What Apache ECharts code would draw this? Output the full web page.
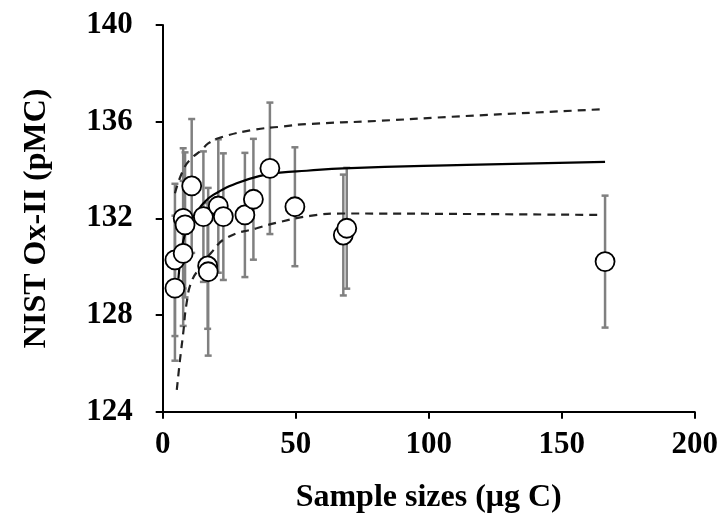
<!DOCTYPE html>
<html>
<head>
<meta charset="utf-8">
<script src="https://cdn.jsdelivr.net/npm/echarts@6/dist/echarts.min.js"></script>
<style>html,body{margin:0;padding:0;background:#fff;}#c{width:724px;height:527px;}</style>
</head>
<body>
<div id="c"></div>
<script>
// Measured sample points
const xVals = [4.6, 7.7, 4.6, 7.7, 8.4, 10.9, 15.3, 16.9, 17.1, 20.9, 22.8, 30.9, 34.1, 40.3, 49.7, 67.9, 69.2, 166.3];
const yVals = [130.28, 130.55, 129.11, 132.0, 131.73, 133.34, 132.07, 130.03, 129.79, 132.51, 132.07, 132.14, 132.79, 134.07, 132.48, 131.31, 131.59, 130.21];
const errVals = [3.15, 3.0, 3.0, 2.9, 3.0, 2.77, 2.7, 2.6, 3.47, 2.76, 2.62, 2.57, 2.5, 2.72, 2.46, 2.5, 2.5, 2.73];

// Fitted curve (solid)
const fitX = [5.9, 7.0, 8.5, 10.5, 12.8, 15.3, 19.0, 27.8, 37.8, 44.1, 54.1, 67.9, 114.3, 166.3];
const fitY = [129.5, 130.6, 131.4, 131.9, 132.25, 132.62, 132.97, 133.45, 133.79, 133.89, 133.97, 134.07, 134.21, 134.34];

// Upper bound (dashed)
const upX = [4.6, 7.7, 10.5, 14.7, 17.1, 22.8, 34.1, 44.1, 54.1, 80.5, 108, 164.5];
const upY = [133.04, 134.0, 134.45, 134.83, 135.1, 135.38, 135.66, 135.79, 135.9, 136.03, 136.2, 136.51];

// Lower bound (dashed)
const loX = [5.3, 6.5, 7.7, 9.0, 10.9, 14.0, 18.4, 24.1, 35.3, 44.1, 55.4, 67.9, 114.3, 165.6];
const loY = [124.9, 126.14, 127.24, 128.5, 129.4, 129.95, 130.6, 131.2, 131.59, 131.85, 132.1, 132.2, 132.18, 132.14];

const xTicks = [0, 50, 100, 150, 200];
const yTicks = [124, 128, 132, 136, 140];

const FONT = 'Liberation Serif';
const pts = xVals.map((x, i) => [x, yVals[i]]);
const bars = xVals.map((x, i) => [x, yVals[i] - errVals[i], yVals[i] + errVals[i]]);
const zip = (a, b) => a.map((v, i) => [v, b[i]]);

const chart = echarts.init(document.getElementById('c'), null, {renderer: 'canvas'});
chart.setOption({
  animation: false,
  backgroundColor: '#ffffff',
  grid: {left: 162.7, right: 29.3, top: 25, bottom: 115.3, containLabel: false},
  xAxis: {
    type: 'value', min: xTicks[0], max: xTicks[xTicks.length - 1], interval: 50,
    name: 'Sample sizes (μg C)', nameLocation: 'middle', nameGap: 70,
    nameTextStyle: {fontFamily: FONT, fontWeight: 'bold', fontSize: 32, color: '#000'},
    axisLine: {lineStyle: {color: '#000', width: 2}},
    axisTick: {show: true, length: 7, lineStyle: {color: '#000', width: 2}},
    axisLabel: {fontFamily: FONT, fontWeight: 'bold', fontSize: 31, color: '#000', margin: 18},
    splitLine: {show: false}
  },
  yAxis: {
    type: 'value', min: yTicks[0], max: yTicks[yTicks.length - 1], interval: 4,
    name: 'NIST Ox-II (pMC)', nameLocation: 'middle', nameGap: 110, nameRotate: 90,
    nameTextStyle: {fontFamily: FONT, fontWeight: 'bold', fontSize: 32, color: '#000'},
    axisLine: {lineStyle: {color: '#000', width: 2}},
    axisTick: {show: true, length: 7, lineStyle: {color: '#000', width: 2}},
    axisLabel: {fontFamily: FONT, fontWeight: 'bold', fontSize: 31, color: '#000', margin: 30},
    splitLine: {show: false}
  },
  series: [
    {
      type: 'custom', z: 1, data: bars,
      renderItem: function (params, api) {
        const x = api.value(0);
        const lo = api.coord([x, api.value(1)]);
        const hi = api.coord([x, api.value(2)]);
        const cw = 3.5;
        const st = {stroke: '#808080', lineWidth: 2.5};
        return {type: 'group', children: [
          {type: 'line', shape: {x1: lo[0], y1: lo[1], x2: hi[0], y2: hi[1]}, style: st},
          {type: 'line', shape: {x1: lo[0] - cw, y1: lo[1], x2: lo[0] + cw, y2: lo[1]}, style: st},
          {type: 'line', shape: {x1: hi[0] - cw, y1: hi[1], x2: hi[0] + cw, y2: hi[1]}, style: st}
        ]};
      }
    },
    {type: 'line', z: 2, data: zip(upX, upY), smooth: 0.5, showSymbol: false,
     lineStyle: {color: '#222', width: 2.2, type: [8, 6]}},
    {type: 'line', z: 2, data: zip(loX, loY), smooth: 0.5, showSymbol: false,
     lineStyle: {color: '#222', width: 2.2, type: [8, 6]}},
    {type: 'line', z: 2, data: zip(fitX, fitY), smooth: 0.5, showSymbol: false,
     lineStyle: {color: '#000', width: 2.2}},
    {type: 'scatter', z: 3, data: pts, symbol: 'circle', symbolSize: 19,
     itemStyle: {color: '#fff', borderColor: '#000', borderWidth: 1.8, opacity: 1}}
  ]
});
</script>
</body>
</html>
